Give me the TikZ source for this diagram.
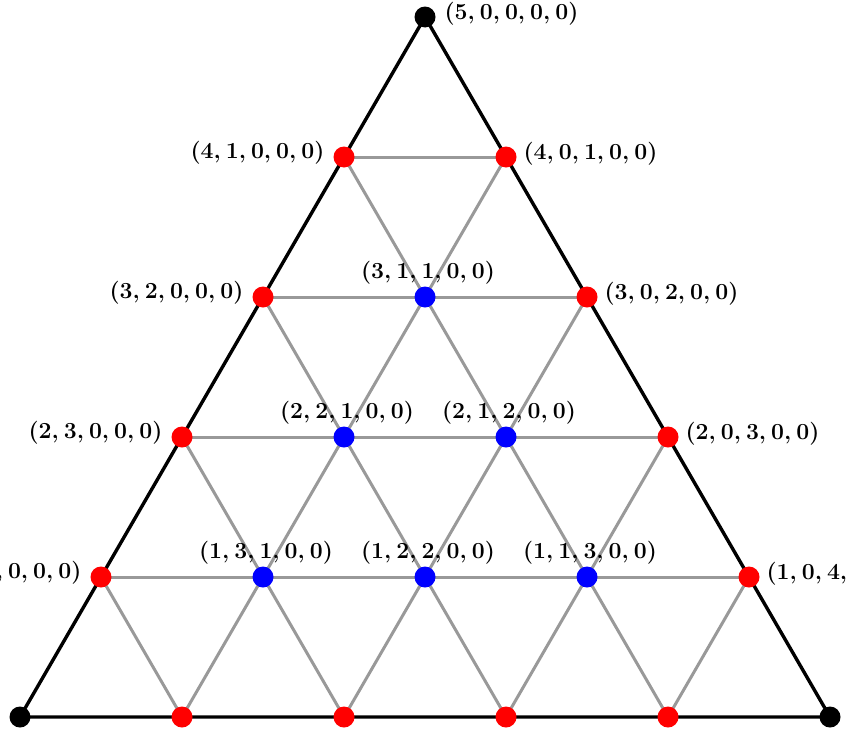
\documentclass[tikz,border=0pt]{standalone}
\begin{document}
\begin{tikzpicture}[x=1pt,y=-1pt,
 grid/.style={draw=gray!80,line width=3pt},
 edge/.style={draw=black,line width=3.4pt},
 dot/.style={circle,inner sep=0pt,minimum size=21pt},
 lab/.style={font=\fontsize{23}{26}\selectfont\bfseries}]
\useasboundingbox (0,0) rectangle (850,736);
\newcommand{\tup}[5]{(#1,\hspace{0.22em}#2,\hspace{0.22em}#3,\hspace{0.22em}#4,\hspace{0.22em}#5)}
\foreach \r in {0,...,5}{
  \pgfmathsetmacro\n{5-\r}
  \foreach \k in {0,...,\n}{
    \coordinate (p\r-\k) at ({20+81*\r+162*\k},{717-140*\r});
  }
}
\foreach \r in {1,...,4}{
  \pgfmathtruncatemacro\n{5-\r}
  \draw[grid] (p\r-0) -- (p\r-\n);
}
\foreach \k in {1,...,4}{
  \pgfmathtruncatemacro\m{5-\k}
  \draw[grid] (p0-\k) -- (p\k-0);
  \draw[grid] (p0-\k) -- (p\m-\k);
}
\draw[edge] (p0-0) -- (p0-5) -- (p5-0) -- cycle;
\foreach \r/\k/\c in {0/0/black,0/5/black,5/0/black,
 0/1/red,0/2/red,0/3/red,0/4/red,
 1/0/red,1/4/red,2/0/red,2/3/red,3/0/red,3/2/red,4/0/red,4/1/red,
 1/1/blue,1/2/blue,1/3/blue,2/1/blue,2/2/blue,3/1/blue}{
  \node[dot,fill=\c] (n\r-\k) at (p\r-\k) {};
}
\node[lab,anchor=west] (l50) at ([xshift=16pt,yshift=3pt]n5-0) {\tup50000};
\node[lab,anchor=east] (l41) at ([xshift=-16pt,yshift=4pt]n4-0) {\tup41000};
\node[lab,anchor=west] (l40) at ([xshift=14pt,yshift=3pt]n4-1) {\tup40100};
\node[lab,anchor=east] (l32) at ([xshift=-16pt,yshift=4pt]n3-0) {\tup32000};
\node[lab,anchor=west] (l30) at ([xshift=14pt,yshift=3pt]n3-2) {\tup30200};
\node[lab,anchor=east] (l23) at ([xshift=-16pt,yshift=4pt]n2-0) {\tup23000};
\node[lab,anchor=west] (l20) at ([xshift=14pt,yshift=3pt]n2-3) {\tup20300};
\node[lab,anchor=east] (l14) at ([xshift=-16pt,yshift=4pt]n1-0) {\tup14000};
\node[lab,anchor=west] (l10) at ([xshift=14pt,yshift=3pt]n1-4) {\tup10400};
\node[lab,anchor=south] at ([xshift=3pt,yshift=9pt]n3-1) {\tup31100};
\node[lab,anchor=south] at ([xshift=3pt,yshift=9pt]n2-1) {\tup22100};
\node[lab,anchor=south] at ([xshift=3pt,yshift=9pt]n2-2) {\tup21200};
\node[lab,anchor=south] at ([xshift=3pt,yshift=9pt]n1-1) {\tup13100};
\node[lab,anchor=south] at ([xshift=3pt,yshift=9pt]n1-2) {\tup12200};
\node[lab,anchor=south] at ([xshift=3pt,yshift=9pt]n1-3) {\tup11300};
\end{tikzpicture}
\end{document}
